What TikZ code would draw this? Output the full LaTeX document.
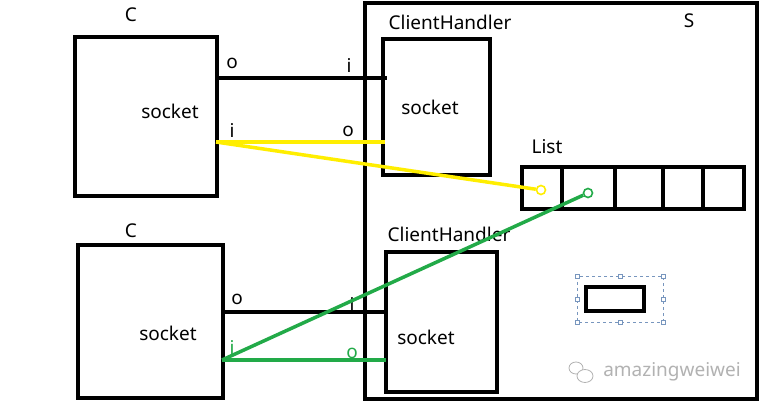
\documentclass[tikz,border=0pt]{standalone}
\usepackage{fontspec}
\setmainfont{Noto Sans}
\definecolor{ylw}{RGB}{255,238,0}
\definecolor{grn}{RGB}{34,170,72}
\definecolor{selc}{RGB}{120,150,190}
\begin{document}
\begin{tikzpicture}[x=1pt,y=-1pt,
  lbl/.style={font=\fontsize{19}{21}\selectfont,inner sep=0pt},
  wire/.style={line width=3.5pt},
  frame/.style={line width=3.5pt},
  handle/.style={draw=selc,fill=white,line width=0.6pt,minimum size=4pt,inner sep=0pt},
  endc/.style={circle,fill=white,line width=1.6pt,minimum size=9pt,inner sep=0pt}]
\useasboundingbox[fill=white] (0,0) rectangle (764,406);
% Server
\draw[frame] (365,3) rectangle (757,399);
\node[lbl] (s) at (689,21) {S};
% clients
\draw[frame] (75,37) rectangle (217,196);
\node[lbl] (c1l) at (131,15) {C};
\node[lbl] (c1s) at (170,111) {socket};
\draw[frame] (78,245) rectangle (223,398);
\node[lbl] (c2l) at (131,231) {C};
\node[lbl] (c2s) at (168,333) {socket};
% client handlers
\draw[frame] (383,39) rectangle (490,175);
\node[lbl] (h1l) at (450,22) {ClientHandler};
\node[lbl] (h1s) at (430,107) {socket};
\draw[frame] (386,252) rectangle (497,392);
\node[lbl] (h2s) at (426,337) {socket};
\node[lbl] (h2l) at (449,234) {ClientHandler};
% list
\node[lbl] (listl) at (547,147) {List};
\draw[frame] (522,167) rectangle (744,209);
\foreach \x in {562,615,663,703} \draw[frame] (\x,167) -- (\x,209);
% coordinates
\coordinate (a1) at (217,78); \coordinate (b1) at (387,78);
\coordinate (a2) at (216,142); \coordinate (b2) at (385,142);
\coordinate (a3) at (223,312); \coordinate (b3) at (386,312);
\coordinate (a4) at (222,360); \coordinate (b4) at (386,360);
% wires
\draw[wire] (a1) -- (b1);
\node[lbl] at (232,63) {o};
\node[lbl] at (349,66) {i};
\draw[wire,ylw] (a2) -- (b2);
\node[lbl] at (232,131) {i};
\node[lbl] at (348,131) {o};
\node[endc,draw=ylw] (yc) at (541,190) {};
\draw[wire,ylw] (a2) -- (yc);
\draw[wire] (a3) -- (b3);
\node[lbl] at (237,299) {o};
\node[lbl] at (352,304) {i};
\draw[wire,grn] (a4) -- (b4);
\node[lbl,grn] at (232,347) {i};
\node[lbl,grn] at (352,353) {o};
\node[endc,draw=grn] (gc) at (588,193) {};
\draw[wire,grn] (a4) -- (gc);
% selected small box
\draw[selc,dashed,line width=0.6pt] (577,276) rectangle (663,322);
\foreach \x in {577,620,663} \foreach \y in {276,322} \node[handle] at (\x,\y) {};
\node[handle] at (577,299) {}; \node[handle] at (663,299) {};
\draw[frame] (586,287) rectangle (644,311);
% watermark
\draw[gray!60,line width=0.8pt] (576,368) ellipse (7pt and 6pt);
\draw[gray!60,line width=0.8pt,fill=white] (585,376) ellipse (8pt and 6.5pt);
\node[lbl,text=gray!60] (wm) at (672,372) {amazingweiwei};
\end{tikzpicture}
\end{document}
